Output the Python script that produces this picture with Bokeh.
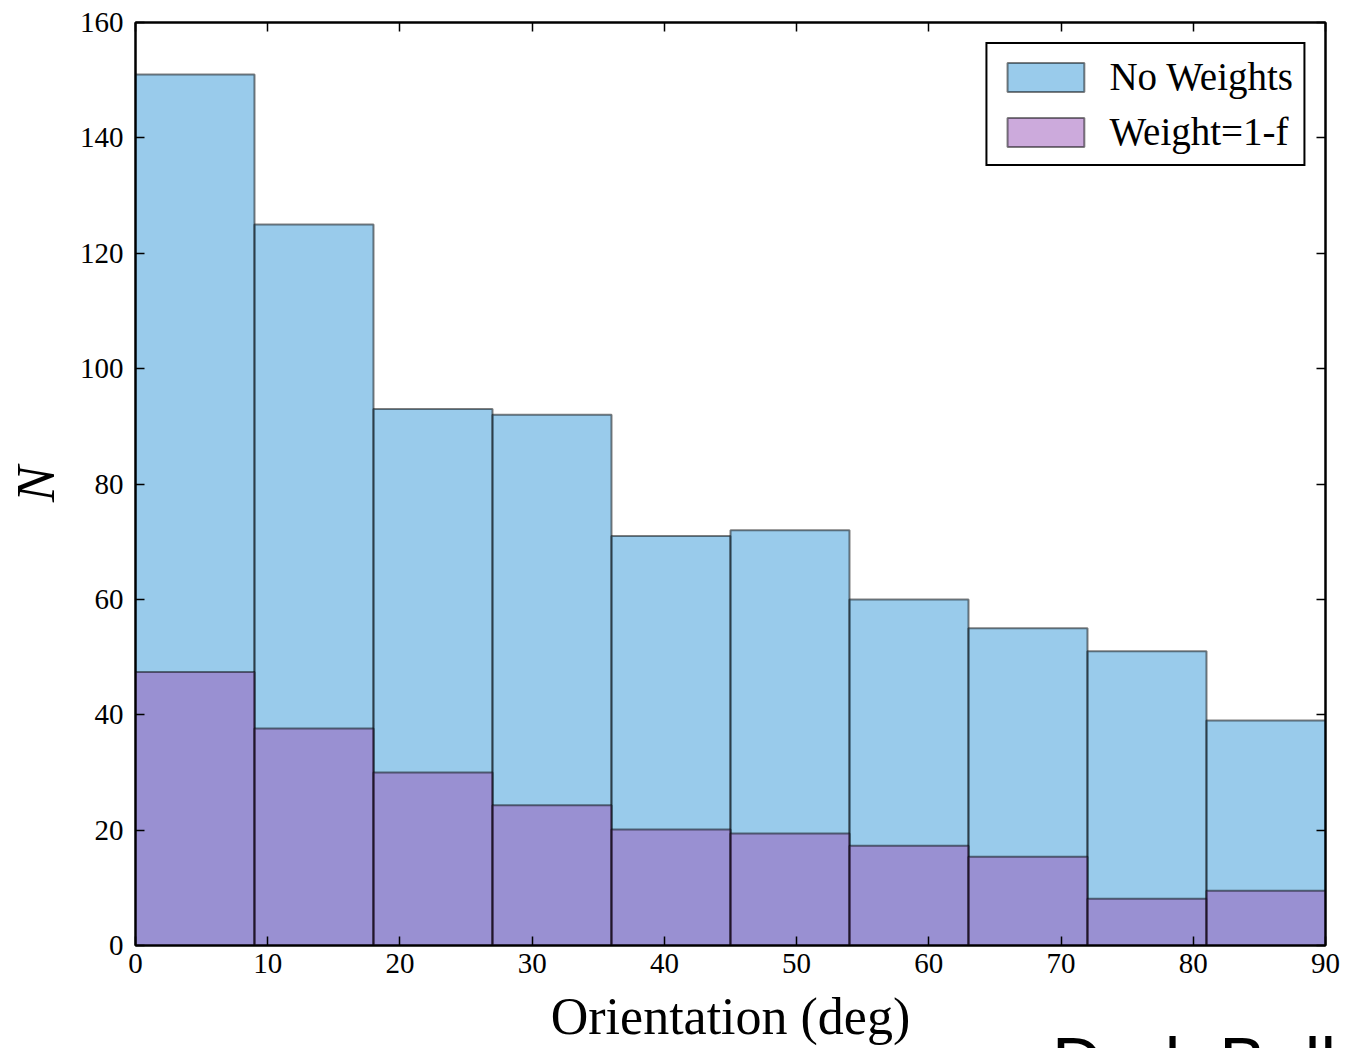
from bokeh.plotting import figure
from bokeh.models import (FixedTicker, LinearAxis, Range1d, Legend, LegendItem, Div)
from bokeh.layouts import column
from bokeh.embed import file_html
from bokeh.resources import INLINE

# ---- data ----
bin_edges = [0, 9, 18, 27, 36, 45, 54, 63, 72, 81, 90]
no_weights = [151, 125, 93, 92, 71, 72, 60, 55, 51, 39]
weight_1mf = [47.4, 37.6, 30.0, 24.3, 20.1, 19.4, 17.3, 15.4, 8.1, 9.5]
x_ticks = [0, 10, 20, 30, 40, 50, 60, 70, 80, 90]
y_ticks = [0, 20, 40, 60, 80, 100, 120, 140, 160]
series_names = ["No Weights", "Weight=1-f"]
footer_text = "Dark Ball"

SERIF = "Liberation Serif"

p = figure(width=1350, height=1048, output_backend="svg", toolbar_location=None,
           x_range=Range1d(0, 90), y_range=Range1d(0, 160),
           min_border_left=135, min_border_right=25, min_border_top=22, min_border_bottom=103)
p.grid.visible = False
p.background_fill_color = "white"
p.border_fill_color = "white"
p.outline_line_color = "black"
p.outline_line_width = 2

lefts = bin_edges[:-1]
rights = bin_edges[1:]
r1 = p.quad(left=lefts, right=rights, bottom=0, top=no_weights,
            fill_color="#3397D7", fill_alpha=0.5, line_color="black", line_alpha=0.5, line_width=2)
r2 = p.quad(left=lefts, right=rights, bottom=0, top=weight_1mf,
            fill_color="#9955B9", fill_alpha=0.5, line_color="black", line_alpha=0.5, line_width=2)

def style_axis(ax, labels=True):
    ax.axis_line_color = "black"
    ax.axis_line_width = 2
    ax.major_tick_in = 9
    ax.major_tick_out = 0
    ax.major_tick_line_width = 1.5
    ax.minor_tick_line_color = None
    ax.major_label_text_font = SERIF
    ax.major_label_text_font_size = "29px"
    ax.major_label_text_color = "black"
    if not labels:
        ax.major_label_text_font_size = "0px"
        ax.major_label_text_alpha = 0

xa = p.xaxis[0]
xa.ticker = FixedTicker(ticks=x_ticks)
style_axis(xa)
xa.major_label_standoff = 8
xa.axis_label = "Orientation (deg)"
xa.axis_label_text_font = SERIF
xa.axis_label_text_font_size = "52px"
xa.axis_label_text_font_style = "normal"
xa.axis_label_text_color = "black"
xa.axis_label_standoff = 12

ya = p.yaxis[0]
ya.ticker = FixedTicker(ticks=y_ticks)
style_axis(ya)
ya.major_label_standoff = 12
ya.axis_label = "N"
ya.axis_label_text_font = SERIF
ya.axis_label_text_font_size = "54px"
ya.axis_label_text_font_style = "italic"
ya.axis_label_text_color = "black"
ya.axis_label_standoff = 11

top_ax = LinearAxis(ticker=FixedTicker(ticks=x_ticks))
style_axis(top_ax, labels=False)
p.add_layout(top_ax, "above")
right_ax = LinearAxis(ticker=FixedTicker(ticks=y_ticks))
style_axis(right_ax, labels=False)
p.add_layout(right_ax, "right")

legend = Legend(items=[LegendItem(label=series_names[0], renderers=[r1]),
                       LegendItem(label=series_names[1], renderers=[r2])],
                location="top_right")
legend.margin = 20
legend.padding = 10
legend.spacing = 10
legend.glyph_width = 96
legend.glyph_height = 36
legend.label_standoff = 16
legend.label_text_font = SERIF
legend.label_text_font_size = "39px"
legend.label_text_color = "black"
legend.border_line_color = "black"
legend.border_line_alpha = 1
legend.border_line_width = 2
legend.background_fill_alpha = 1
p.add_layout(legend)

# footer text that is cut by the bottom edge, as in the reference
footer = Div(text=footer_text, width=298, height=20, margin=(-20, 0, 0, 1052),
             styles={"overflow": "hidden", "font-family": "Liberation Sans",
                     "font-size": "70px", "line-height": "70px", "color": "black",
                     "white-space": "nowrap"})

layout = column(p, footer, spacing=0)

open("out.html", "w").write(file_html(layout, INLINE))
